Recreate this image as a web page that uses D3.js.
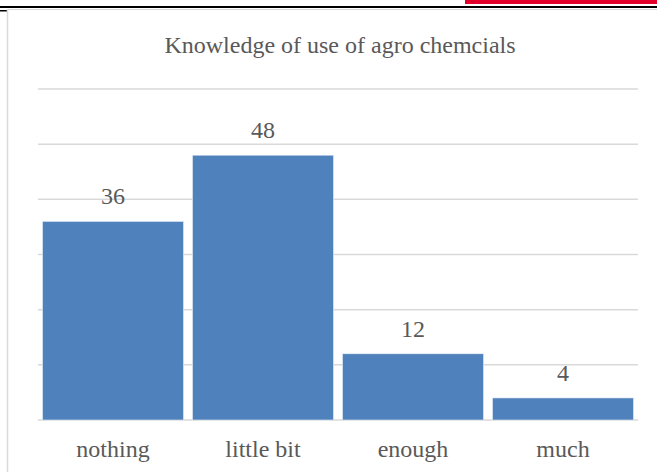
<!DOCTYPE html>
<html>
<head>
<meta charset="utf-8">
<script src="https://cdn.jsdelivr.net/npm/d3@7"></script>
<style>
  html, body { margin: 0; padding: 0; background: #fff; }
  svg { display: block; }
</style>
</head>
<body>
<svg id="chart" width="657" height="472"></svg>
<script>
// Survey answers on knowledge of agro-chemical use
const categories = ["nothing", "little bit", "enough", "much"];
const values = [36, 48, 12, 4];
const yTicks = [0, 10, 20, 30, 40, 50, 60];
const title = "Knowledge of use of agro chemcials";

const W = 657, H = 472;
const svg = d3.select("#chart");
const serif = "'Liberation Serif', 'Times New Roman', serif";

// page header rules above the chart frame
svg.append("rect").attr("x", 465).attr("y", 0).attr("width", W - 465).attr("height", 4).attr("fill", "#e2002a");
svg.append("rect").attr("x", 0).attr("y", 6).attr("width", W).attr("height", 2).attr("fill", "#000");
svg.append("rect").attr("x", 0).attr("y", 10).attr("width", 7).attr("height", 1.5).attr("fill", "#000");

// chart frame
svg.append("line").attr("x1", 7.5).attr("x2", W).attr("y1", 9.5).attr("y2", 9.5)
  .attr("stroke", "#d9d9d9").attr("stroke-width", 1);
svg.append("line").attr("x1", 7.5).attr("x2", 7.5).attr("y1", 9.5).attr("y2", H)
  .attr("stroke", "#d9d9d9").attr("stroke-width", 1.5);

const plot = { left: 38, right: 638, top: 89, bottom: 420 };

const x = d3.scaleBand().domain(categories).range([plot.left, plot.right])
  .paddingInner(0.06).paddingOuter(0.03);
const y = d3.scaleLinear().domain([0, 60]).range([plot.bottom, plot.top]);

// horizontal gridlines
svg.append("g").selectAll("line").data(yTicks).join("line")
  .attr("x1", plot.left).attr("x2", plot.right)
  .attr("y1", d => y(d)).attr("y2", d => y(d))
  .attr("stroke", "#d9d9d9").attr("stroke-width", 1.5);

// bars
svg.append("g").selectAll("rect").data(values).join("rect")
  .attr("x", (d, i) => x(categories[i]))
  .attr("y", d => y(d))
  .attr("width", x.bandwidth())
  .attr("height", d => y(0) - y(d))
  .attr("fill", "#4f81bd")
  .attr("stroke", "#e8eef6").attr("stroke-width", 0.6);

// value labels
svg.append("g").selectAll("text").data(values).join("text")
  .attr("x", (d, i) => x(categories[i]) + x.bandwidth() / 2)
  .attr("y", d => y(d) - 17)
  .attr("text-anchor", "middle")
  .attr("font-family", serif).attr("font-size", 24).attr("fill", "#595959")
  .text(d => d);

// category axis
const xAxis = svg.append("g").attr("transform", `translate(0,${plot.bottom})`)
  .call(d3.axisBottom(x).tickSize(0).tickPadding(0));
xAxis.select(".domain").remove();
xAxis.selectAll("text")
  .attr("y", 37)
  .attr("dy", 0)
  .attr("font-family", serif).attr("font-size", 24).attr("fill", "#595959");

// title
svg.append("text")
  .attr("x", (plot.left + plot.right) / 2 + 2).attr("y", 53)
  .attr("text-anchor", "middle")
  .attr("font-family", serif).attr("font-size", 24).attr("fill", "#595959")
  .text(title);
</script>
</body>
</html>
